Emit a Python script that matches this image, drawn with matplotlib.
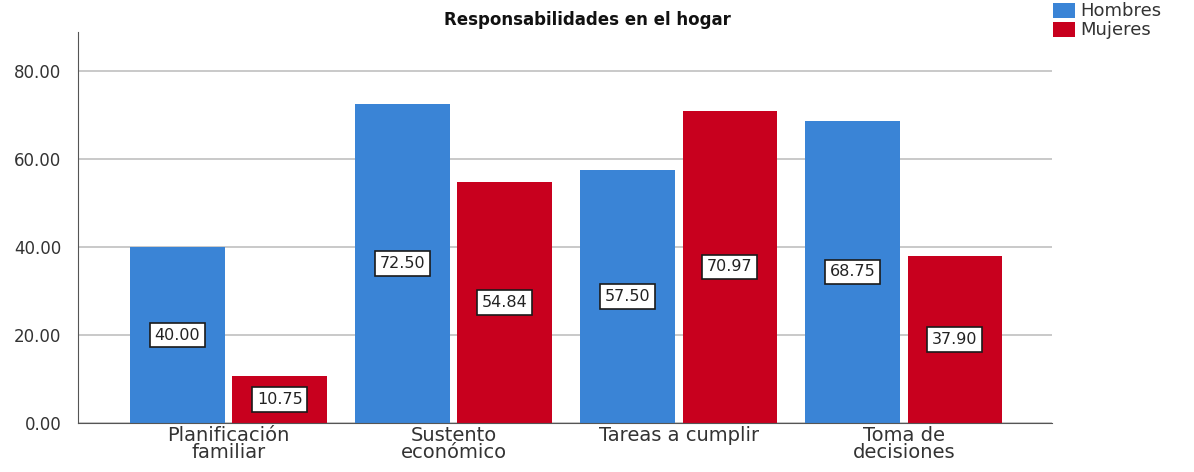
import numpy as np
import matplotlib
matplotlib.use("Agg")
import matplotlib.pyplot as plt

# data
categorias = ["Planificación\nfamiliar", "Sustento\neconómico", "Tareas a cumplir", "Toma de\ndecisiones"]
hombres = [40.00, 72.50, 57.50, 68.75]
mujeres = [10.75, 54.84, 70.97, 37.90]
yticks = [0, 20, 40, 60, 80]

azul = "#3a84d6"
rojo = "#c8001e"

fig = plt.figure(figsize=(11.94, 4.72), dpi=100)
ax = fig.add_axes([0.0653, 0.1038, 0.8157, 0.8282])

x = np.arange(len(categorias))
w = 0.42
off = 0.227
b1 = ax.bar(x - off, hombres, w, color=azul, label="Hombres", zorder=2)
b2 = ax.bar(x + off, mujeres, w, color=rojo, label="Mujeres", zorder=2)

# value labels in white boxes at mid-height of each bar
for bars, vals in ((b1, hombres), (b2, mujeres)):
    for rect, v in zip(bars, vals):
        ax.text(rect.get_x() + rect.get_width() / 2, v / 2, f"{v:.2f}",
                ha="center", va="center", fontsize=11.5, color="#222222", zorder=3,
                bbox=dict(boxstyle="square,pad=0.3", fc="white", ec="#1a1a1a", lw=1.2))

ax.set_xlim(-0.669, 3.658)
ax.set_ylim(0, 88.9)
ax.set_yticks(yticks)
ax.set_yticklabels([f"{t:.2f}" for t in yticks], fontsize=12, color="#333333")
ax.set_xticks(x)
ax.set_xticklabels(categorias, fontsize=14, color="#333333", linespacing=0.85)
ax.tick_params(length=0)
ax.tick_params(axis="x", pad=2)
ax.tick_params(axis="y", pad=12)

ax.yaxis.grid(True, color="#c0c0c0", lw=1.2, zorder=0)
ax.spines["top"].set_visible(False)
ax.spines["right"].set_visible(False)
ax.spines["left"].set_color("#555555")
ax.spines["bottom"].set_color("#555555")

fig.text(587 / 1194, 1 - 20 / 472, "Responsabilidades en el hogar",
         ha="center", va="center", fontsize=12, fontweight="bold", color="#111111")

ax.legend(loc="upper left", bbox_to_anchor=(0.882, 0.995), bbox_transform=fig.transFigure,
          frameon=False, fontsize=13, handlelength=1.2, handleheight=0.9,
          handletextpad=0.3, labelspacing=0.05, borderpad=0, borderaxespad=0,
          labelcolor="#333333")

fig.savefig("out.png", dpi=100)
